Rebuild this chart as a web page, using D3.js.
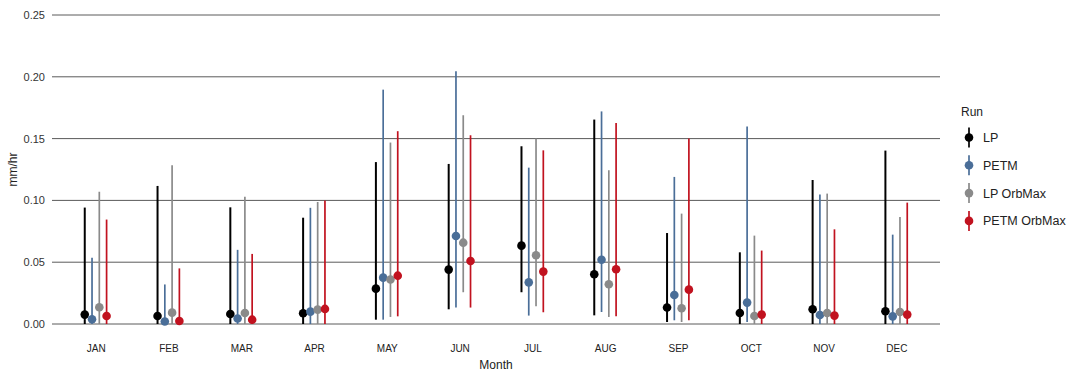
<!DOCTYPE html>
<html>
<head>
<meta charset="utf-8">
<script src="https://cdn.jsdelivr.net/npm/d3@7"></script>
<style>
  body { margin: 0; background: #fff; }
  svg { font-family: "Liberation Sans", Arial, sans-serif; }
</style>
</head>
<body>
<div id="chart"></div>
<script>
var months = ["JAN","FEB","MAR","APR","MAY","JUN","JUL","AUG","SEP","OCT","NOV","DEC"];
var runs = ["LP", "PETM", "LP OrbMax", "PETM OrbMax"];
var colors = ["#000000", "#4a6e98", "#8a8a8a", "#c1121f"];
var yTicks = [0, 0.05, 0.10, 0.15, 0.20, 0.25];

// mean, low, high per month for each run
var lpMean   = [0.0076,0.0065,0.0081,0.0087,0.0286,0.0440,0.0634,0.0402,0.0133,0.0089,0.0119,0.0103];
var lpLow    = [0.000,0.000,0.000,0.000,0.0035,0.0119,0.0257,0.0070,0.0016,0.000,0.000,0.000];
var lpHigh   = [0.0942,0.1117,0.0944,0.0860,0.1310,0.1295,0.1438,0.1654,0.0736,0.0580,0.1165,0.1403];

var petmMean = [0.0038,0.0020,0.0044,0.0100,0.0375,0.0712,0.0337,0.0520,0.0235,0.0173,0.0073,0.0062];
var petmLow  = [0.000,0.000,0.000,0.000,0.0035,0.0133,0.0068,0.0097,0.0030,0.0016,0.000,0.000];
var petmHigh = [0.0537,0.0320,0.0600,0.0940,0.1896,0.2045,0.1265,0.1720,0.1190,0.1597,0.1047,0.0723];

var lpoMean  = [0.0135,0.0092,0.0089,0.0116,0.0360,0.0658,0.0556,0.0321,0.0127,0.0065,0.0089,0.0097];
var lpoLow   = [0.000,0.000,0.000,0.000,0.0057,0.0257,0.0143,0.0057,0.0016,0.000,0.000,0.000];
var lpoHigh  = [0.1070,0.1284,0.1030,0.0987,0.1468,0.1689,0.1500,0.1244,0.0893,0.0715,0.1055,0.0866];

var petmoMean = [0.0065,0.0024,0.0035,0.0122,0.0391,0.0510,0.0424,0.0443,0.0278,0.0076,0.0068,0.0076];
var petmoLow  = [0.000,0.000,0.000,0.000,0.0062,0.0133,0.0095,0.0062,0.0030,0.000,0.000,0.000];
var petmoHigh = [0.0845,0.0450,0.0567,0.1000,0.1560,0.1527,0.1405,0.1626,0.1500,0.0594,0.0766,0.0982];

var series = [
  {run: runs[0], mean: lpMean, low: lpLow, high: lpHigh},
  {run: runs[1], mean: petmMean, low: petmLow, high: petmHigh},
  {run: runs[2], mean: lpoMean, low: lpoLow, high: lpoHigh},
  {run: runs[3], mean: petmoMean, low: petmoLow, high: petmoHigh}
];

var W = 1076, H = 373;
var margin = {left: 52, right: 136, top: 15, bottom: 49};
var width = W - margin.left - margin.right,
    height = H - margin.top - margin.bottom;

var x = d3.scalePoint().domain(months).range([0, width]).padding(0.6);
var y = d3.scaleLinear().domain([0, 0.25]).range([height, 0]);
var dodge = d3.scalePoint().domain(runs).range([-0.15, 0.15]);
var color = d3.scaleOrdinal().domain(runs).range(colors);

var svg = d3.select("#chart").append("svg")
  .attr("width", W).attr("height", H);

var g = svg.append("g")
  .attr("transform", "translate(" + margin.left + "," + margin.top + ")");

// grid lines
g.selectAll(".grid")
  .data(yTicks)
  .enter().append("line")
  .attr("x1", 0).attr("x2", width)
  .attr("y1", function(d){ return y(d); })
  .attr("y2", function(d){ return y(d); })
  .style("stroke", "#5a5a5a")
  .style("stroke-width", 1);

// Y axis
var yAxis = g.append("g")
  .call(d3.axisLeft(y).tickValues(yTicks).tickFormat(d3.format(".2f")).tickSize(0).tickPadding(7));
yAxis.select(".domain").remove();
yAxis.selectAll("text").style("font-size", "11px").style("fill", "#333");

// X axis
var xAxis = g.append("g")
  .attr("transform", "translate(0," + height + ")")
  .call(d3.axisBottom(x).tickSize(0).tickPadding(21));
xAxis.select(".domain").remove();
xAxis.selectAll("text").style("font-size", "10px").style("fill", "#222");

// marks
var step = x.step();
series.forEach(function(s) {
  var rows = months.map(function(m, i) {
    return {m: m, mean: s.mean[i], low: s.low[i], high: s.high[i]};
  });
  var off = dodge(s.run) * step;
  var sg = g.append("g");
  sg.selectAll("line")
    .data(rows)
    .enter().append("line")
    .attr("x1", function(d){ return x(d.m) + off; })
    .attr("x2", function(d){ return x(d.m) + off; })
    .attr("y1", function(d){ return y(d.low); })
    .attr("y2", function(d){ return y(d.high); })
    .style("stroke", color(s.run))
    .style("stroke-width", s.run === "LP" ? 2 : 1.7);
  sg.selectAll("circle")
    .data(rows)
    .enter().append("circle")
    .attr("cx", function(d){ return x(d.m) + off; })
    .attr("cy", function(d){ return y(d.mean); })
    .attr("r", 4.3)
    .style("fill", color(s.run));
});

// axis titles
svg.append("text")
  .attr("transform", "translate(17," + (margin.top + height / 2) + ") rotate(-90)")
  .style("text-anchor", "middle")
  .style("font-size", "12px")
  .style("fill", "#222")
  .text("mm/hr");

svg.append("text")
  .attr("x", margin.left + width / 2)
  .attr("y", 369)
  .style("text-anchor", "middle")
  .style("font-size", "12px")
  .style("fill", "#222")
  .text("Month");

// legend
var legend = svg.append("g").attr("transform", "translate(961,0)");
legend.append("text")
  .attr("x", 0).attr("y", 116)
  .style("font-size", "12px")
  .style("fill", "#222")
  .text("Run");

var items = legend.selectAll(".item")
  .data(runs)
  .enter().append("g")
  .attr("transform", function(d, i){ return "translate(8," + (137.5 + i * 27.8) + ")"; });
items.append("line")
  .attr("y1", -10).attr("y2", 10)
  .style("stroke", function(d){ return color(d); })
  .style("stroke-width", 1.7);
items.append("circle")
  .attr("r", 4.3)
  .style("fill", function(d){ return color(d); });
items.append("text")
  .attr("x", 14).attr("y", 4.5)
  .style("font-size", "12.5px")
  .style("fill", "#222")
  .text(function(d){ return d; });
</script>
</body>
</html>
